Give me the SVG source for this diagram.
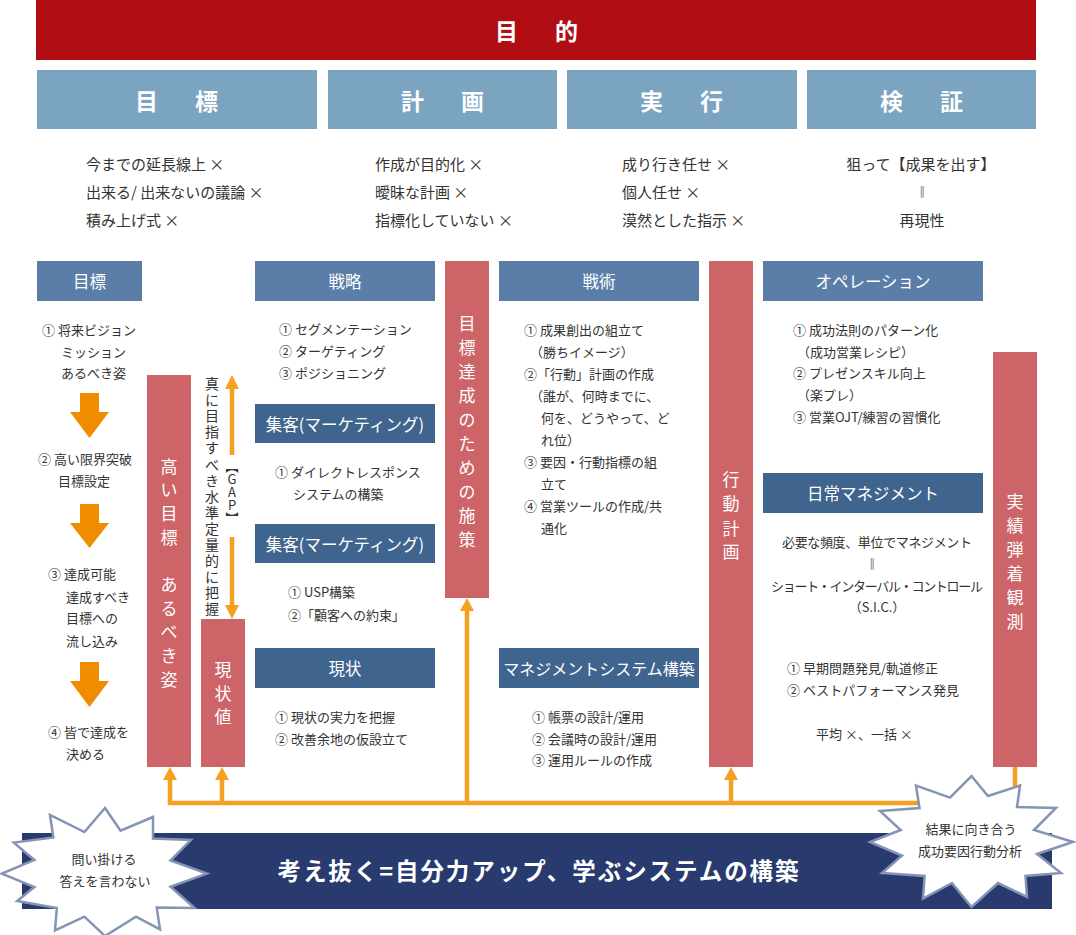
<svg xmlns="http://www.w3.org/2000/svg" width="1076" height="935" viewBox="0 0 1076 935">
<defs>
<style>
text{font-family:"Noto Sans CJK JP","Noto Sans CJK SC",sans-serif;dominant-baseline:central;}
.hdr{font-size:23px;font-weight:bold;fill:#fff;text-anchor:middle;letter-spacing:7px;}
.sec{font-size:16.5px;fill:#fff;text-anchor:middle;}
.top{font-size:15px;fill:#333;}
.b{font-size:13px;fill:#333;}
.c{text-anchor:middle;}
.dbl{font-family:"DejaVu Sans",sans-serif;font-size:12px;fill:#888;text-anchor:middle;}
.vt{font-size:17px;fill:#fff;text-anchor:middle;}
.red{fill:#cd6468;}
.mb{fill:#5b7ea9;}
.db{fill:#3f648e;}
.lb{fill:#7ba4c0;}
.ln{stroke:#f5a021;stroke-width:4.5;fill:none;}
.ah{fill:#f5a021;}
.blk{fill:#f08c00;}
.star{fill:#fff;stroke:#8594b5;stroke-width:2.5;stroke-linejoin:miter;}
</style>
</defs>
<rect width="1076" height="935" fill="#fff"/>

<g id="purpose">
<rect x="36" y="0" width="1000" height="60" fill="#b00d14"/>
<text class="hdr" x="540" y="30">目　的</text>
</g>

<g id="head-goal"><rect class="lb" x="37" y="70" width="280" height="59"/><text class="hdr" x="180" y="100">目　標</text></g>
<g id="head-plan"><rect class="lb" x="328" y="70" width="229" height="59"/><text class="hdr" x="446" y="100">計　画</text></g>
<g id="head-exec"><rect class="lb" x="567" y="70" width="230" height="59"/><text class="hdr" x="685" y="100">実　行</text></g>
<g id="head-verify"><rect class="lb" x="807" y="70" width="229" height="59"/><text class="hdr" x="925" y="100">検　証</text></g>

<g id="notes-goal">
<text class="top" x="86" y="163">今までの延長線上 ×</text>
<text class="top" x="86" y="191">出来る/ 出来ないの議論 ×</text>
<text class="top" x="86" y="219">積み上げ式 ×</text>
</g>
<g id="notes-plan">
<text class="top" x="375" y="163">作成が目的化 ×</text>
<text class="top" x="375" y="191">曖昧な計画 ×</text>
<text class="top" x="375" y="219">指標化していない ×</text>
</g>
<g id="notes-exec">
<text class="top" x="622" y="163">成り行き任せ ×</text>
<text class="top" x="622" y="191">個人任せ ×</text>
<text class="top" x="622" y="219">漠然とした指示 ×</text>
</g>
<g id="notes-verify">
<text class="top c" x="921" y="163">狙って【成果を出す】</text>
<text class="dbl" x="922" y="191">∥</text>
<text class="top c" x="922" y="219">再現性</text>
</g>

<g id="sec-goal">
<rect class="mb" x="37" y="261" width="105" height="40"/>
<text class="sec" x="89.5" y="281">目標</text>
<text class="b" x="42" y="329">① 将来ビジョン</text>
<text class="b" x="61" y="351">ミッション</text>
<text class="b" x="61" y="372">あるべき姿</text>
<text class="b" x="38" y="458">② 高い限界突破</text>
<text class="b" x="58" y="480">目標設定</text>
<text class="b" x="48" y="573">③ 達成可能</text>
<text class="b" x="66" y="596">達成すべき</text>
<text class="b" x="66" y="617">目標への</text>
<text class="b" x="66" y="640">流し込み</text>
<text class="b" x="48" y="731">④ 皆で達成を</text>
<text class="b" x="66" y="753">決める</text>
</g>
<g id="flow-arrows">
<polygon class="blk" points="80,393 99,393 99,412 109,412 89.5,438 70,412 80,412"/>
<polygon class="blk" points="80,504 99,504 99,523 109,523 89.5,548 70,523 80,523"/>
<polygon class="blk" points="80,662 99,662 99,681 109,681 89.5,707 70,681 80,681"/>
</g>

<g id="bar-high-goal">
<rect class="red" x="147" y="375" width="44" height="392"/>
<text class="vt" x="169 169 169 169 169 169 169 169 169 169" y="465 488.7 512.4 536.1 559.8 583.5 607.2 630.9 654.6 678.3">高い目標　あるべき姿</text>
</g>
<g id="bar-current">
<rect class="red" x="201" y="619" width="44" height="148"/>
<text class="vt" x="223 223 223" y="668 692 715">現状値</text>
</g>

<g id="gap">
<text class="b c" style="font-size:14px" x="212 212 212 212 212 212 212 212 212 212 212 212 212 212 212" y="383 399.1 415.2 431.3 447.4 463.5 479.6 495.7 511.8 527.9 544 560.1 576.2 592.3 608.4">真に目指すべき水準定量的に把握</text>
<text class="b" x="232" y="460" style="writing-mode:vertical-rl;text-orientation:upright;font-size:13px;dominant-baseline:auto">【GAP】</text>
</g>

<g id="sec-strategy">
<rect class="mb" x="255" y="261" width="180" height="40"/>
<text class="sec" x="345" y="281">戦略</text>
<text class="b" x="279" y="328">① セグメンテーション</text>
<text class="b" x="279" y="350">② ターゲティング</text>
<text class="b" x="279" y="372">③ ポジショニング</text>
</g>
<g id="sec-marketing1">
<rect class="db" x="255" y="404" width="180" height="39"/>
<text class="sec" x="345" y="423.5">集客(マーケティング)</text>
<text class="b" x="275" y="471">① ダイレクトレスポンス</text>
<text class="b" x="293" y="493">システムの構築</text>
</g>
<g id="sec-marketing2">
<rect class="db" x="255" y="524" width="180" height="39"/>
<text class="sec" x="345" y="543.5">集客(マーケティング)</text>
<text class="b" x="288" y="591">① USP構築</text>
<text class="b" x="288" y="614">②「顧客への約束」</text>
</g>
<g id="sec-status">
<rect class="db" x="255" y="648" width="180" height="40"/>
<text class="sec" x="345" y="668">現状</text>
<text class="b" x="275" y="716">① 現状の実力を把握</text>
<text class="b" x="275" y="738">② 改善余地の仮設立て</text>
</g>

<g id="bar-measures">
<rect class="red" x="445" y="261" width="44" height="337"/>
<text class="vt" x="467 467 467 467 467 467 467 467 467 467" y="322 346 370 394 418 442 466 490 514 538">目標達成のための施策</text>
</g>

<g id="sec-tactics">
<rect class="mb" x="499" y="261" width="200" height="40"/>
<text class="sec" x="599" y="281">戦術</text>
<text class="b" x="524" y="329">① 成果創出の組立て</text>
<text class="b" x="530" y="351">（勝ちイメージ）</text>
<text class="b" x="524" y="373">②「行動」計画の作成</text>
<text class="b" x="530" y="395">（誰が、何時までに、</text>
<text class="b" x="541" y="417">何を、どうやって、ど</text>
<text class="b" x="541" y="439">れ位）</text>
<text class="b" x="524" y="461">③ 要因・行動指標の組</text>
<text class="b" x="541" y="483">立て</text>
<text class="b" x="524" y="505">④ 営業ツールの作成/共</text>
<text class="b" x="541" y="527">通化</text>
</g>
<g id="sec-mgmt-system">
<rect class="db" x="499" y="648" width="200" height="40"/>
<text class="sec" x="599" y="668" style="font-size:16px">マネジメントシステム構築</text>
<text class="b" x="532" y="716">① 帳票の設計/運用</text>
<text class="b" x="532" y="738">② 会議時の設計/運用</text>
<text class="b" x="532" y="759">③ 運用ルールの作成</text>
</g>

<g id="bar-action-plan">
<rect class="red" x="709" y="261" width="44" height="506"/>
<text class="vt" x="731 731 731 731" y="478 502 527 550">行動計画</text>
</g>

<g id="sec-operation">
<rect class="mb" x="763" y="261" width="220" height="40"/>
<text class="sec" x="873" y="281">オペレーション</text>
<text class="b" x="793" y="329">① 成功法則のパターン化</text>
<text class="b" x="797" y="351">（成功営業レシピ）</text>
<text class="b" x="793" y="372">② プレゼンスキル向上</text>
<text class="b" x="797" y="394">（楽プレ）</text>
<text class="b" x="793" y="416">③ 営業OJT/練習の習慣化</text>
</g>
<g id="sec-daily-mgmt">
<rect class="db" x="763" y="473" width="220" height="40"/>
<text class="sec" x="873" y="493">日常マネジメント</text>
<text class="b c" x="877" y="541" textLength="190" lengthAdjust="spacing">必要な頻度、単位でマネジメント</text>
<text class="dbl" x="872" y="563">∥</text>
<text class="b c" x="877" y="585" textLength="212" lengthAdjust="spacing">ショート・インターバル・コントロール</text>
<text class="b c" x="877" y="606">（S.I.C.）</text>
<text class="b" x="787" y="667">① 早期問題発見/軌道修正</text>
<text class="b" x="787" y="689">② ベストパフォーマンス発見</text>
<text class="b" x="816" y="733">平均 ×、一括 ×</text>
</g>

<g id="bar-results">
<rect class="red" x="993" y="352" width="44" height="415"/>
<text class="vt" x="1015 1015 1015 1015 1015 1015" y="500 524 548 572 596 620">実績弾着観測</text>
</g>

<g id="connectors">
<line class="ln" x1="232" y1="387" x2="232" y2="455"/>
<polygon class="ah" points="232,375 225,389 239,389"/>
<line class="ln" x1="232" y1="537" x2="232" y2="606"/>
<polygon class="ah" points="232,619 225,605 239,605"/>
<polyline class="ln" points="170,779 170,803 1015,803 1015,767"/>
<polygon class="ah" points="170,767 163,780 177,780"/>
<line class="ln" x1="222" y1="779" x2="222" y2="803"/>
<polygon class="ah" points="222,767 215,780 229,780"/>
<line class="ln" x1="467" y1="610" x2="467" y2="803"/>
<polygon class="ah" points="467,598 460,611 474,611"/>
<line class="ln" x1="731" y1="779" x2="731" y2="803"/>
<polygon class="ah" points="731,767 724,780 738,780"/>
</g>

<g id="bottom-bar">
<rect x="22" y="833" width="1030" height="76" fill="#293a6f"/>
<text x="538" y="870" textLength="521" lengthAdjust="spacing" style="font-size:23.5px;font-weight:bold;fill:#fff;text-anchor:middle">考え抜く=自分力アップ、学ぶシステムの構築</text>
</g>

<g id="star-left">
<polygon class="star" points="105,808 120.5,830.6 153,817 153,838.5 191,840 170.5,860.5 207,873.6 170.5,886.7 194.6,908 156.7,907.4 160,929.4 136,916.7 105,936 84.4,916.7 55,930.5 56.8,908 17.2,901 34.4,887 2,873.6 34.4,860 13.8,842.6 53.4,837.5 50,815 84.4,832"/>
<text class="b c" x="104" y="858">問い掛ける</text>
<text class="b c" x="105" y="880">答えを言わない</text>
</g>
<g id="star-right">
<polygon class="star" points="971.5,776 988,796 1020,785.6 1017,807 1056,808 1034,830 1073,842 1037,854 1061,873 1025.5,876 1027,897 998,883 971.5,907 952,883 923,898.5 924.6,876 882,873 902,855.7 870,842 900.7,830 880,811 919.5,808 916,785.6 950,797.6"/>
<text class="b c" x="971" y="828">結果に向き合う</text>
<text class="b c" x="970" y="850">成功要因行動分析</text>
</g>
</svg>
